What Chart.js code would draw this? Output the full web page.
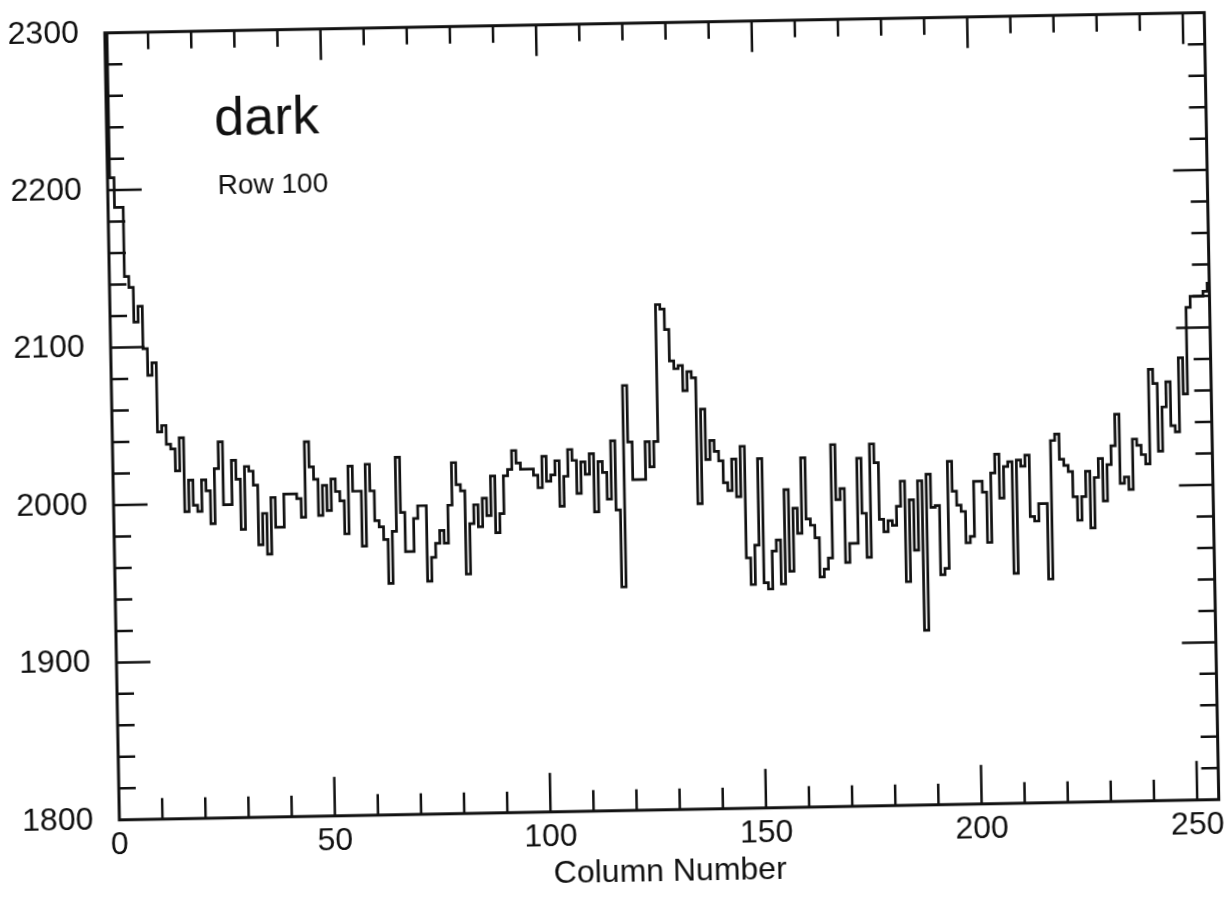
<!DOCTYPE html>
<html>
<head>
<meta charset="utf-8">
<title>dark - Row 100</title>
<script src="https://cdn.jsdelivr.net/npm/chart.js@4.4.1/dist/chart.umd.min.js"></script>
<style>
  html, body { margin: 0; padding: 0; background: #fff; overflow: hidden; }
  /* the scanned page sits about one degree off square */
  #wrap { width: 1227px; height: 907px; transform: rotate(-1.06deg); transform-origin: 662px 416px; }
</style>
</head>
<body>
<div id="wrap"><canvas id="rowChart" width="1227" height="907"></canvas></div>
<script>
// dark frame, row 100 - one value per column
const rowValues = [
  2350, 2208, 2189, 2189, 2145, 2138, 2116, 2126, 2099, 2082, // 0-9
  2090, 2046, 2050, 2038, 2035, 2021, 2042, 1995, 2015, 1999, // 10-19
  1995, 2015, 2008, 1987, 2022, 2039, 1999, 1999, 2027, 2015, // 20-29
  1983, 2023, 2020, 2011, 1973, 1993, 1967, 2003, 1984, 1984, // 30-39
  2005, 2005, 2005, 2002, 1990, 2038, 2022, 2014, 1991, 2010, // 40-49
  1994, 2014, 2006, 2000, 1979, 2022, 2006, 2006, 1971, 2023, // 50-59
  2006, 1987, 1983, 1975, 1947, 1980, 2027, 1992, 1967, 1967, // 60-69
  1988, 1996, 1996, 1948, 1963, 1972, 1980, 1972, 1996, 2023, // 70-79
  2009, 2005, 1952, 1984, 1996, 1982, 2000, 1989, 2014, 1978, // 80-89
  1990, 2014, 2018, 2030, 2022, 2018, 2018, 2018, 2014, 2006, // 90-99
  2026, 2010, 2014, 2023, 1994, 2013, 2030, 2023, 2002, 2022, // 100-109
  2014, 2027, 1990, 2022, 2015, 1998, 2035, 1991, 1942, 2070, // 110-119
  2034, 2010, 2010, 2010, 2034, 2018, 2034, 2121, 2118, 2105, // 120-129
  2085, 2080, 2082, 2066, 2078, 2074, 1994, 2054, 2022, 2034, // 130-139
  2027, 2021, 2007, 2002, 2022, 1998, 2030, 1959, 1942, 1967, // 140-149
  2022, 1943, 1939, 1963, 1970, 1942, 2002, 1950, 1990, 1974, // 150-159
  2022, 1983, 1979, 1971, 1946, 1951, 1958, 2030, 1995, 2002, // 160-169
  1955, 1967, 1967, 2021, 1986, 1958, 2030, 2018, 1982, 1974, // 170-179
  1981, 1978, 1990, 2006, 1942, 1994, 1962, 2006, 1911, 2010, // 180-189
  1989, 1990, 1946, 1950, 2018, 1999, 1990, 1986, 1966, 1970, // 190-199
  2005, 2005, 1998, 1966, 2010, 2022, 1994, 2014, 2017, 1946, // 200-209
  2018, 2014, 2021, 1982, 1979, 1990, 1990, 1942, 2030, 2034, // 210-219
  2018, 2014, 2010, 1994, 1979, 1994, 2010, 1974, 2006, 2018, // 220-229
  1991, 2014, 2026, 2046, 2002, 2006, 1998, 2030, 2026, 2020, // 230-239
  2014, 2074, 2065, 2022, 2050, 2066, 2038, 2034, 2081, 2058, // 240-249
  2113, 2120, 2120, 2120, 2123, 2128                          // 250-255
];

const xTicks = [0, 50, 100, 150, 200, 250];
const yTicks = [1800, 1900, 2000, 2100, 2200, 2300];
const xTitle = 'Column Number';
const plotLabel = 'dark';
const rowLabel = 'Row 100';

const FONT = '"Liberation Sans", Arial, Helvetica, sans-serif';

// text placed in data units, like xyouts
const labelSpots = [
  { text: plotLabel, x: 25, y: 2234, size: 54 },
  { text: rowLabel, x: 25.5, y: 2196, size: 28 }
];

// box with inward ticks on all four sides
const frameTicks = {
  id: 'frameTicks',
  afterDraw(chart) {
    const { ctx, chartArea: a, scales: { x, y } } = chart;
    ctx.save();
    ctx.strokeStyle = '#111';
    ctx.lineWidth = 2.5;
    ctx.lineCap = 'butt';
    ctx.beginPath();
    for (let v = 10; v < x.max; v += 10) {
      const px = x.getPixelForValue(v);
      const major = v % 50 === 0;
      ctx.moveTo(px, a.bottom); ctx.lineTo(px, a.bottom - (major ? 39 : 21));
      ctx.moveTo(px, a.top); ctx.lineTo(px, a.top + (major ? 31 : 17));
    }
    for (let v = y.min + 20; v < y.max; v += 20) {
      const py = y.getPixelForValue(v);
      const len = v % 100 === 0 ? 34 : 17;
      ctx.moveTo(a.left, py); ctx.lineTo(a.left + len, py);
      ctx.moveTo(a.right, py); ctx.lineTo(a.right - len, py);
    }
    ctx.stroke();
    ctx.lineWidth = 3;
    ctx.strokeRect(a.left, a.top, a.right - a.left, a.bottom - a.top);

    ctx.fillStyle = '#111';
    ctx.textAlign = 'left';
    ctx.textBaseline = 'alphabetic';
    labelSpots.forEach(l => {
      ctx.font = l.size + 'px ' + FONT;
      ctx.fillText(l.text, x.getPixelForValue(l.x), y.getPixelForValue(l.y));
    });
    ctx.restore();
  }
};

// fixed axis boxes, no extra room asked for the end labels
const fixX = s => { s.height = 97.2; s.paddingLeft = 0; s.paddingRight = 0; };
const fixY = s => { s.width = 112; s.paddingTop = 0; s.paddingBottom = 0; };

new Chart(document.getElementById('rowChart'), {
  type: 'line',
  data: {
    datasets: [{
      data: rowValues.map((v, i) => ({ x: i, y: v })),
      stepped: 'middle',
      borderColor: '#111',
      borderWidth: 2.7,
      pointRadius: 0,
      fill: false
    }]
  },
  options: {
    responsive: false,
    devicePixelRatio: 1,
    animation: false,
    layout: { padding: { left: 0, top: 22.7, right: 15.4, bottom: 0 } },
    plugins: {
      legend: { display: false },
      tooltip: { enabled: false }
    },
    scales: {
      x: {
        type: 'linear',
        min: 0,
        max: 255,
        afterBuildTicks: s => { s.ticks = xTicks.map(value => ({ value })); },
        afterFit: fixX,
        grid: { display: false, drawTicks: false },
        border: { display: false },
        ticks: {
          color: '#111',
          font: { family: FONT, size: 32 },
          padding: 6,
          maxRotation: 0,
          includeBounds: false,
          callback: v => String(v)
        },
        title: {
          display: true,
          text: xTitle,
          color: '#111',
          font: { family: FONT, size: 32 },
          padding: { top: 0, bottom: 16 }
        }
      },
      y: {
        type: 'linear',
        min: 1800,
        max: 2300,
        afterBuildTicks: s => { s.ticks = yTicks.map(value => ({ value })); },
        afterFit: fixY,
        grid: { display: false, drawTicks: false },
        border: { display: false },
        ticks: {
          color: '#111',
          font: { family: FONT, size: 32 },
          padding: 26,
          callback: v => String(v)
        }
      }
    }
  },
  plugins: [frameTicks]
});
</script>
</body>
</html>
